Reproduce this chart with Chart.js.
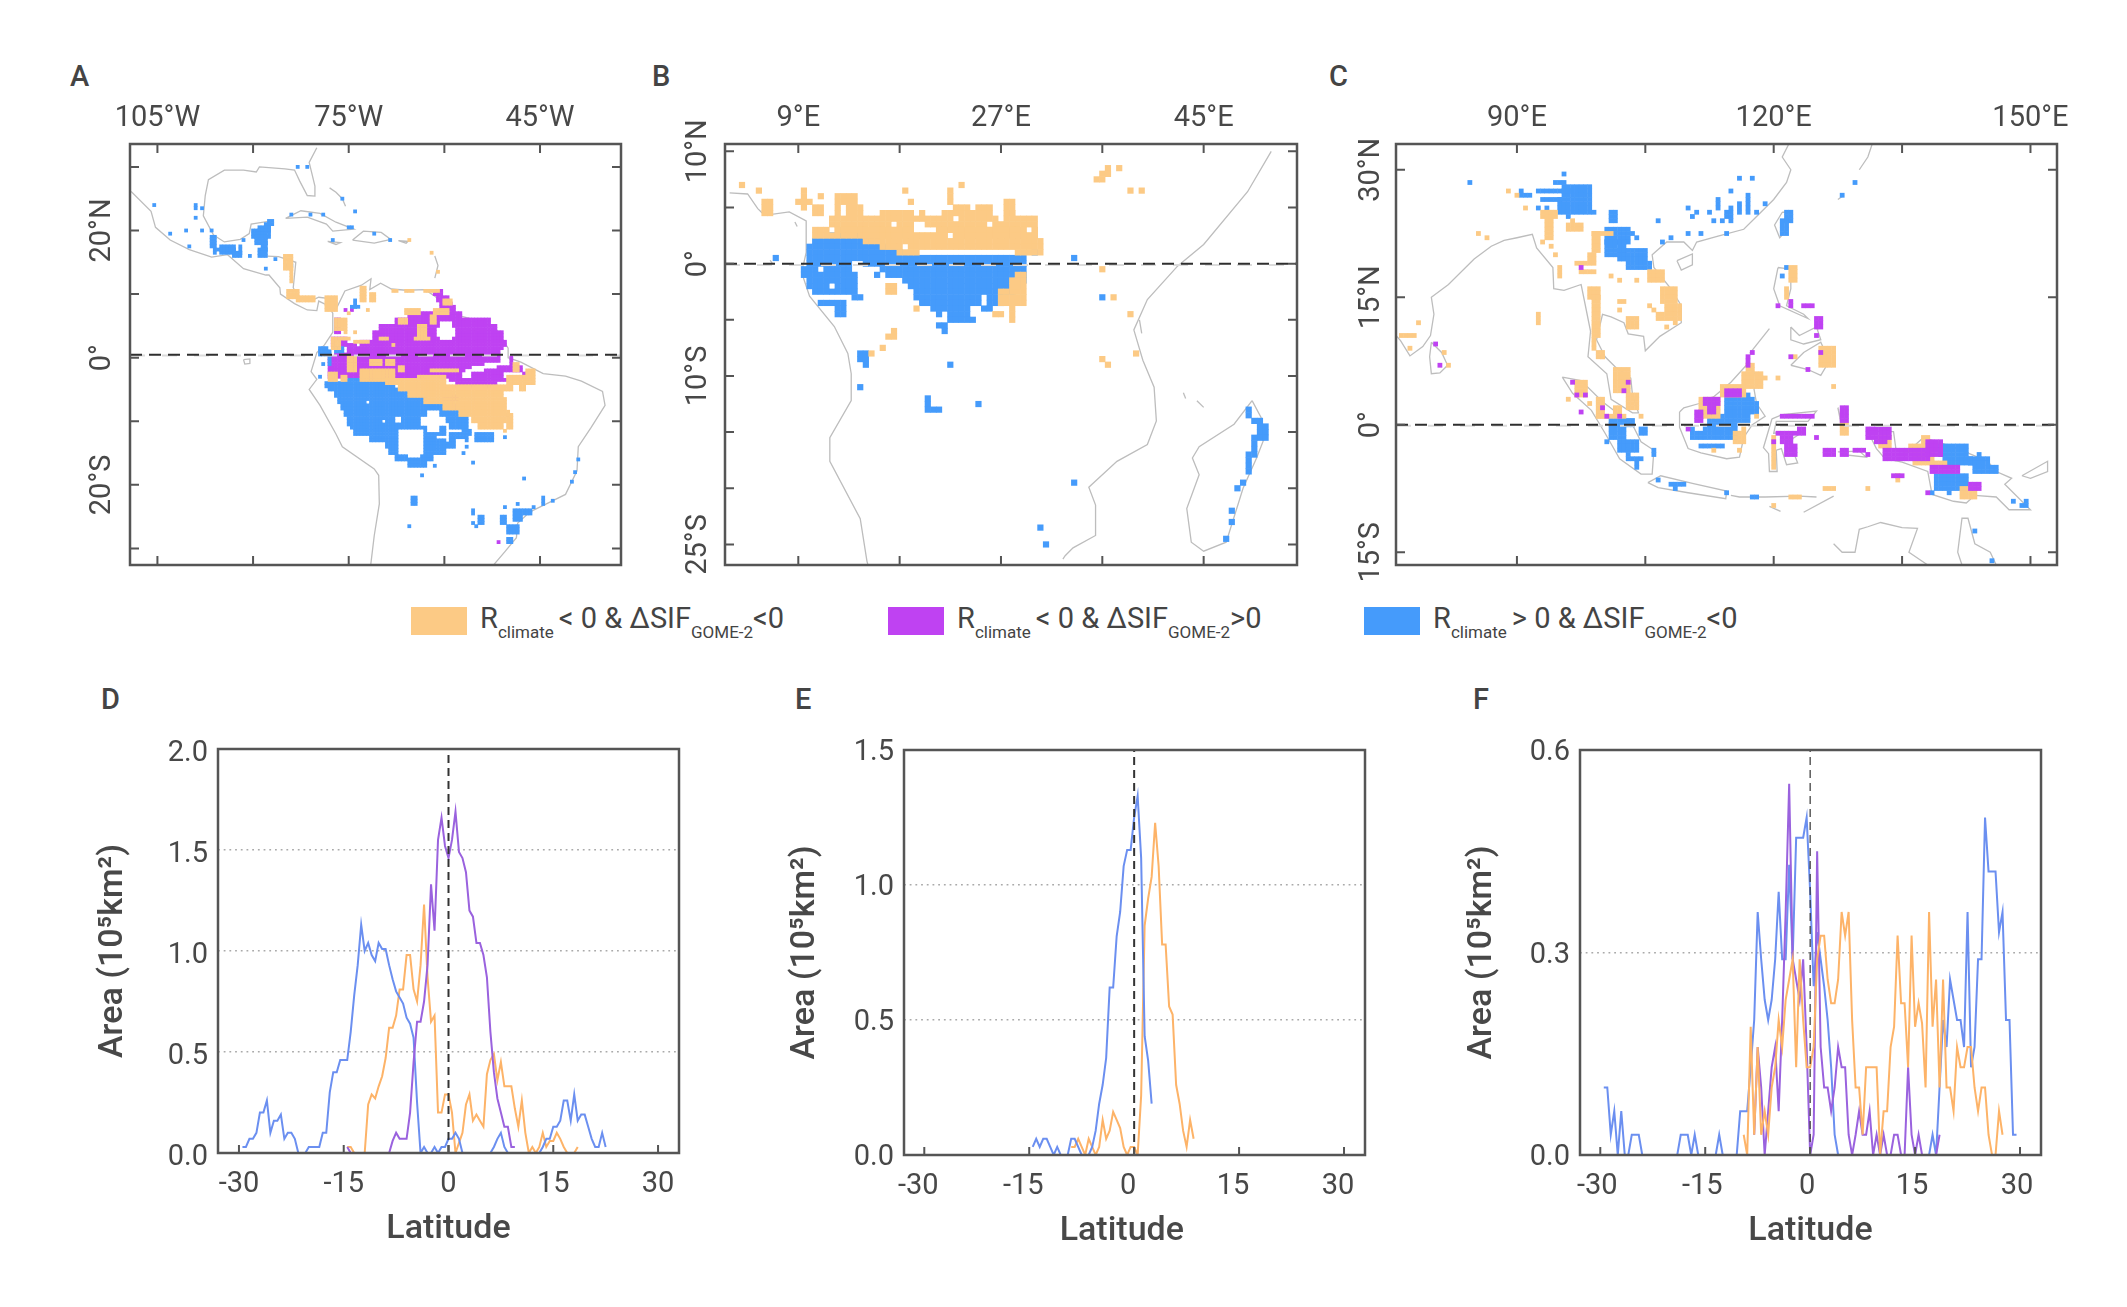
<!DOCTYPE html>
<html>
<head>
<meta charset="utf-8">
<title>Rclimate and SIF maps</title>
<script src="https://cdn.jsdelivr.net/npm/chart.js@4/dist/chart.umd.min.js"></script>
<style>
body { margin:0; background:#fff; width:2127px; height:1307px; overflow:hidden; position:relative;
       font-family:Roboto, sans-serif; color:#444; }
canvas { position:absolute; }
.letter { position:absolute; font-size:29px; font-weight:500; line-height:29px; }
.swatch { position:absolute; top:607px; width:56px; height:28px; }
.legtext { position:absolute; top:601px; font-size:29px; line-height:34px; white-space:nowrap; }
.legtext sub { font-size:17px; vertical-align:-10px; line-height:0; }
.legtext sub:first-child { margin-right:5px; }
</style>
</head>
<body>
<div class="letter" style="left:70px;top:62px">A</div>
<div class="letter" style="left:652px;top:62px">B</div>
<div class="letter" style="left:1329px;top:62px">C</div>
<div class="letter" style="left:101px;top:685px">D</div>
<div class="letter" style="left:795px;top:685px">E</div>
<div class="letter" style="left:1473px;top:685px">F</div>

<div class="swatch" style="left:411px;background:#fcca85"></div>
<div class="legtext" style="left:480px">R<sub>climate</sub>&lt; 0 &amp; ΔSIF<sub>GOME-2</sub>&lt;0</div>
<div class="swatch" style="left:888px;background:#bf42f2"></div>
<div class="legtext" style="left:957px">R<sub>climate</sub>&lt; 0 &amp; ΔSIF<sub>GOME-2</sub>&gt;0</div>
<div class="swatch" style="left:1364px;background:#459bfb"></div>
<div class="legtext" style="left:1433px">R<sub>climate</sub>&gt; 0 &amp; ΔSIF<sub>GOME-2</sub>&lt;0</div>

<script>
const ORANGE = "#fcca85", PURPLE = "#bf42f2", BLUE = "#459bfb";
const LINE_BLUE = "#6b8ff0", LINE_ORANGE = "#fdb368", LINE_PURPLE = "#9a62de";
const TEXT = "#484848", FRAME = "#555";

// ---- map A, cells are [lonW, lonE, latN, latS] or single [lon, lat] on a 0.5 degree grid
const blueA = [
  [-75.5,-69.5,-3.5,-3.5],[-78.5,-68,-4,-4.5],[-78,-67,-5,-5],[-77,-65.5,-5.5,-6],[-76.5,-63,-6.5,-7],
  [-76,-60,-7.5,-8],[-75.5,-58,-8.5,-9],[-75,-56.5,-9.5,-10],[-74.5,-56.5,-10.5,-11],[-74,-56,-11.5,-12],
  [-71.5,-56.5,-12.5,-13],[-69,-58.5,-13.5,-14],[-68.5,-60,-14.5,-15],[-67.5,-62,-15.5,-16],[-65.5,-63,-16.5,-17],
  [-55,-52.5,-12,-13],
  [-105.5,24],[-99,24],[-99,23.5],[-99,22],[-98,23.5],[-103,19.5],[-100.5,20],[-98,20],[-96.5,20],[-100,17.5],
  [-96.5,-96,19,17.5],[-95,-93,17.5,16.5],[-96,-93,17,17],[-96,16.5],[-93,-92,16.5,16],[-90.5,16],[-91.5,18.5],[-92,-92,17.5,16.5],
  [-87.5,-87,21.5,21],[-88,-87.5,21,20.5],[-89,-87.5,20.5,20],[-90,-87.5,20,19],[-89.5,-88,19,18],[-88.5,-88,18,17],[-89,-88,17,16],
  [-88,14],[-86.5,15.5],[-84.5,-84,14.5,14.5],
  [-83,30],[-81.5,30],[-76,25],[-74,23],[-84,22.5],[-81,22.5],[-79,22.5],[-75,-74.5,20.5,20.5],[-71,19.5],[-68.5,18.5],[-77.5,18.5],
  [-55.5,-55.5,-24,-24.5],[-55.5,-26],[-54.5,-54,-25,-26],[-55,-26.5],[-65,-64.5,-22,-23],[-65.5,-26.5],[-55.5,-16.5],[-47.5,-19],
  [-50.5,-23.5],[-48.5,-23],[-49,-46.5,-24,-24.5],[-49,-48,-25,-25.5],[-51,-50.5,-25,-26],[-50,-48.5,-26.5,-27.5],[-50,-49.5,-28.5,-29],
  [-46,-23.5],[-44.5,-44.5,-22,-23],[-43,-22.5],[-40,-19.5],[-39.5,-18],[-39,-16],[-50.5,-12.5],[-57,-15],[-56.5,-14],[-61.5,-17],[-63.5,-18.5],
  [-75,-10.5],[-79,-1],[-79.5,-3],[-79.5,-78.5,1.5,.5],[-78,-78,1,-1],[-77,-76,1.5,1],[-74.5,-73.5,8,8],[-74,-74,9,8]
];
const blueHolesA = [
  [-67,-63.5,-11.5,-15],[-65.5,-64,-15,-15.5],[-62.5,-61,-8.5,-11.5],[-63.5,-60,-9.5,-10.5],[-72,-72,-7,-7],
  [-67.5,-67,-9.5,-10],[-69.5,-69.5,-10,-10],[-59.5,-59.5,-10.5,-13],[-59,-57.5,-11.5,-11.5],[-58,-57,-13,-13.5],[-61,-60,-12.5,-12.5]
];
const purpleA = [
  [-61.5,-60.5,10.5,10],[-61,-59.5,9.5,9],[-60.5,-59,8.5,8.5],[-60.5,-58.5,8,7.5],[-65.5,-57.5,7,6.5],[-67.5,-53,6,5.5],
  [-70,-52,5,4.5],[-71,-51,4,3],[-73,-50.5,2.5,2],[-75,-51,1.5,1],[-77,-50,.5,.5],[-78,-49.5,0,-1],[-78,-48,-1.5,-2],
  [-78,-46.5,-2.5,-3],[-59,-50,-3.5,-3.5],[-58,-52,-4,-4.5],[-77,-76,6,4],[-77.5,-74,3,2],[-60,-59,-6.5,-7.5],[-58.5,-58,-6,-6.5],[-58,-57.5,-7.5,-8],
  [-51.5,-29],[-75.5,7.5],[-74.5,7.5]
];
const purpleHolesA = [
  [-60.5,-59,5.5,3],[-61,-58.5,4.5,3.5],[-55.5,-52,-1.5,-1.5],[-53.5,-51,-1,-1],[-56.5,-54,-2,-2],[-76,-75,6,4],[-75,-74,3,2.5],
  [-51,-50,1,-1],[-50.5,-48,-2.5,-3],[-62,-61,-3,-3],[-57,-56,-2.5,-3],[-77,-76.5,2.5,2]
];
const orangeA = [
  [-69,-60,-3.5,-4],[-67,-49.5,-4.5,-5],[-65.5,-51,-5.5,-6],[-63,-50.5,-6.5,-7],[-60,-50.5,-7.5,-8],[-57.5,-50,-8.5,-9],
  [-55.5,-50.5,-9.5,-10],[-54.5,-53,-10.5,-11],[-52.5,-51,-10.5,-11],[-50,-49.5,-9,-11],[-50.5,-11.5],[-73,-68,-2,-3.5],[-64,-60,-3,-3],
  [-62,-58,-2,-2],[-75,-74,0,-2],[-71.5,-70,-.5,-1],[-78,-77,-2.5,-3.5],[-76,-75.5,-3,-3.5],[-67,-66.5,-1.5,-2],[-69,-68,-.5,-1],
  [-50,-46,-3,-4],[-48,-47.5,-4.5,-5],[-47,-46,-2,-2.5],[-49,-48.5,-1,-2],[-66,-64,7.5,7],[-67,-66,6,5.5],[-61.5,-59.5,7.5,7],[-60,-59,9,8.5],
  [-64,-63,5,3.5],[-62,-61.5,6.5,5.5],[-64.5,-62.5,3,3],[-68,2],[-85,-84,16,14],[-84,-84,14,12],[-84.5,-83,10.5,9.5],[-83,-80.5,9.5,9],
  [-78.5,-77,9.5,7.5],[-73,-72.5,11,9],[-71.5,-71,10,9],[-72,7.5],[-68,-67.5,10.5,10.5],[-66,-65,10.5,10.5],[-63,-61,10.5,10.5],
  [-62,16.5],[-61,13.5],[-65.5,18.5],[-77,-75.5,6,4.5],[-77.5,-76.5,3,1.5],[-76,-75,3,3],[-74,4],[-75.5,4],[-74,-72,2.5,2.5],[-75,7],[-70,-69,3,3]
];

// ---- map B
const orangeB = [
  [12.5,14,6,5.5],[12.5,14.5,5,4.5],[16.5,19,4.5,4.5],[22,26,4.5,4.5],[23,26,5,5],[9.5,9.5,6.5,5],[9,10,5.5,5.5],[10.5,11,5,4.5],
  [12,30,4,3],[10.5,30,3,2.5],[15,30,2.5,2.5],[15,30.5,2,2],[16.5,30.5,1.5,1.5],[18,19.5,1,1],[28.5,30.5,1,1],
  [11,11,6,6],[18.5,6.5],[19,5.5],[22.5,22.5,6.5,5.5],[23.5,7],[27.5,28,5.5,4.5],[28,4.5],[4,7],[5.5,6.5],[6,6.5,5.5,4.5],[20,4.5],
  [36,36.5,8,8],[36.5,36.5,8.5,8],[35.5,36,7.5,7.5],[37.5,8.5],[38.5,6.5],[39.5,6.5],[27,29,-2.5,-3.5],[28,29,-1.5,-2],[28.5,29,-1,-1],
  [28,28,-4,-5],[26.5,27,-4.5,-4.5],[17,17.5,-2,-2.5],[19.5,-4],[17,17.5,-6.5,-6.5],[17.5,17.5,-6,-6],[15.5,-8],[16.5,-7.5],
  [36,-.5],[37,-3],[38.5,-4.5],[36,-8.5],[36.5,-9],[39,-8]
];
const orangeHolesB = [[13,13,5,4.5],[17.5,17.5,3.5,3.5],[19.5,20,3.5,3],[20,21,3,3],[22.5,22.5,2.5,2.5],[18.5,18.5,1.5,1.5],[23,23,4,4],[24.5,24.5,5,5],[26,26,3.5,3.5],[27,27,4,4],[29.5,29.5,3,3],[12,12,3,3]];
const blueB = [
  [12,14.5,2.5,2.5],[10.5,16,2,2],[10,16.5,1.5,1.5],[10,18,1,1],[10,29,.5,.5],[10,29,0,0],[9.5,14,-.5,-.5],[16.5,29,-.5,-.5],
  [9.5,14,-1,-1],[17,29,-1,-1],[10,14,-1.5,-1.5],[18.5,29,-1.5,-1.5],[10,14,-2,-2],[19,28.5,-2,-2],[10.5,14,-2.5,-2.5],[19.5,28,-2.5,-2.5],
  [12,14.5,-3,-3],[19.5,27,-3,-3],[11,13,-3.5,-3.5],[20,25,-3.5,-3.5],[26,27,-3.5,-3.5],[12.5,13,-4,-4],[21,24,-4,-4],[25.5,26,-4,-4],
  [12.5,13,-4.5,-4.5],[21.5,24,-4.5,-4.5],[22,24.5,-5,-5],[21.5,22,-5.5,-5.5],[22,22,-6,-6],[16,-1],
  [7,.5],[30,1],[33.5,.5],[36,-3],[14.5,15,-8,-8.5],[15,15,-9,-9],[14.5,-11],[22.5,-9],[20.5,20.5,-12,-13],[21,21.5,-13,-13],[25,-12.5],
  [33.5,-19.5],[30.5,-23.5],[31,-25],[49,49,-13,-13.5],[49.5,50,-14,-14],[50,50.5,-14.5,-15.5],[49.5,49.5,-15.5,-16.5],[49,49.5,-17,-17],[49,49,-17.5,-18.5],
  [48.5,-19.5],[48,-20],[47.5,-22],[47.5,-23],[47,-24.5]
];
const blueHolesB = [[11,11,-.5,-.5],[15,15,-.5,-.5],[12,12,-2,-2],[22,22,-4.5,-5],[11,13,-3,-3],[25.5,25.5,-3,-3.5],[14,14.5,0,-.5],[13.5,13.5,-3,-3]];

// ---- map C
const blueC = [
  [95.5,98.5,28,27],[95,98.5,26.5,25.5],[95,97.5,25,25],[92.5,96,27.5,27.5],[94.5,95.5,28.5,28.5],[95.5,29.5],[93,95,26.5,26.5],[92.5,25.5],[93.5,25.5],
  [84.5,28.5],[90.5,91.5,27,27],[90.5,27.5],[98,99,25,25],[96,24.5],[101,101.5,24,25],
  [100.5,103,23,21.5],[100.5,102.5,21.5,20],[102,105,20.5,19.5],[103,105.5,19,18.5],
  [103.5,22.5],[104,22],[106.5,24],[108,22],[107,21.5],[110,22.5],[111.5,22.5],[114.5,22.5],[110,25.5],[110.5,24.5],[111,25],[112.5,25],[113,24],[114,24],
  [114.5,115,24.5,25],[115,24],[115,25.5],[115,27.5],[113.5,113.5,25.5,26.5],[116,116,25,26],[117,117,25,27],[118,25],[116,29],[117.5,29],[119,26],
  [121,121.5,22.5,24],[121.5,122,24,25],[129.5,28.5],[128,27],[121.5,18.5],[121,17.5],
  [115.5,117,3.5,3.5],[114.5,117.5,3,3],[114.5,118,2.5,1.5],[112.5,117,1,.5],[112.5,115.5,0,0],[110.5,115.5,-.5,-1.5],[111.5,114,-2.5,-2.5],
  [101,103.5,.5,0],[101.5,102.5,-.5,-1.5],[102,104,-2,-3],[104.5,105,-.5,-1],[101,101,-.5,-1.5],[100.5,-2],[103,-3.5],[103,104.5,-4,-4],[104,104,-4.5,-5],[106,106,-3,-3.5],
  [108,109.5,-7,-7],[108.5,-7.5],[106.5,-6.5],[114.5,-8],[117.5,118,-8.5,-8.5],
  [139.5,142.5,-2.5,-3.5],[140,143,-4,-4.5],[143,145,-4,-4.5],[143.5,146,-5,-5.5],[139,142.5,-6,-7.5],[144,-3.5],[138.5,-8],[140.5,-8],[148,-9],[149,149.5,-9.5,-9.5],[149.5,-9],
  [143.5,-12.5],[145.5,-16]
];
const blueHolesC = [[111,111.5,0,-.5]];
const purpleC = [
  [96.5,5],[97,3.5],[98,3.5],[97.5,1.5],[100,2],[102,1],[100.5,1],[103,5],[102.5,4],[97.5,18.5],
  [111,111.5,1.5,.5],[112,113.5,3,2.5],[112.5,113,2,1.5],[114.5,116,4,3.5],[110,-.5],[117,117,7,8],[117.5,8.5],
  [121,124.5,1,1],[120.5,122.5,-1,-1],[121,122,-1.5,-2],[121.5,122.5,-2.5,-3.5],[120,-2],[123,123.5,-.5,-1],[125,-1.5],[126,127,-3,-3.5],[128,128.5,-3,-3.5],[129.5,130.5,-3,-3],[131,-3.5],[128,128.5,.5,2],
  [131,133.5,-.5,-1.5],[132,133,-2,-2],[133,138,-3,-4],[138,139.5,-2,-3.5],[138.5,141.5,-5,-5.5],[134,135,-6,-6],[143,144,-7,-7.5],[138,-8],
  [122,14.5],[123.5,124.5,14,14],[125,125.5,11.5,12.5],[120.5,14],[122,14],[125,10.5],[122,8],[125.5,8.5],[124,6.5],[80.5,9.5],[81,7]
];
const orangeC = [
  [89,27.5],[90,27],[91,25.5],[85.5,22.5],[86.5,22],[93,94.5,25,24.5],[93.5,94,24.5,22],[96,97.5,23,23.5],[96.5,24],[99,101,22.5,22.5],[99,99.5,20.5,22.5],
  [93,21.5],[94,21],[94.5,20],[95,95,17.5,18.5],[97,99,19,19],[97.5,99,18,18],[98.5,99,19.5,20],[98.5,99.5,15,16],[99,99.5,10.5,15],[99,99,9,10],[99.5,100,8,8.5],
  [101,17.5],[102,17],[104,17],[102,102.5,14.5,14.5],[102,13.5],[105.5,107,17,18],[107,108.5,14.5,16],[107.5,109,13.5,14],[106.5,109,12.5,13],[108.5,12],[107.5,11.5],[103,104,11.5,12.5],[105.5,14],[106,13.5],
  [101.5,103,4,6.5],[103,104,2,3.5],[104.5,1],[100,8],
  [97,98,3.5,5],[99.5,100,1,3],[99.5,102.5,1,1],[101.5,102,1.5,2],[96,3],[98.5,2.5],
  [111.5,113.5,1,3],[114,116.5,3.5,4.5],[116.5,118.5,4.5,6],[117,117.5,6.5,7],[119,5.5],[120.5,5.5],[115.5,116.5,-1,-2],[116,-3],[118,1],[113,-3],[116.5,-.5],
  [122,122.5,17,18.5],[121.5,121.5,15,16],[125.5,127,7,9],[122.5,8],[127,4.5],[128,128.5,0,-1],
  [120,120,-1.5,-5],[134.5,134.5,-6,-6.5],[131,-7.5],[126,127,-7.5,-7.5],[122,123,-8.5,-8.5],[120,-9.5],
  [137.5,138,-1.5,-3],[136,137,-2.5,-3],[136.5,138.5,-3.5,-4.5],[132.5,133.5,-1.5,-2.5],[138.5,140,-4.5,-4.5],[142,143.5,-7.5,-8.5],
  [76.5,78,10.5,10.5],[78.5,12],[77.5,9],[82,7],[81.5,8.5],[92.5,92.5,12,13]
];

// ---- coastlines, [lon, lat]
const coastA = [
  [[-80,33],[-81.2,30.7],[-80.3,27],[-80.3,25.4],[-81.5,25.5],[-82.7,27.8],[-83.5,29.5],[-85,29.7],[-89,30],[-89.5,29.2],[-91.5,29.5],[-94.5,29.5],[-97,28],[-97.5,25.5],[-97.8,22.3],[-96.2,19.3],[-94.5,18.2],[-92,18.6],[-90.6,19.5],[-90.3,21],[-87.2,21.5],[-87.5,19.5],[-88,18],[-88.7,16],[-86,15.9],[-83.3,15],[-83.7,11],[-83,9.7],[-81,8.9],[-79.7,9.5],[-78,9.3],[-76.8,8],[-75.6,10.5],[-73,11.4],[-71.5,12.4],[-71.7,10.7],[-70,11.7],[-68.3,10.8],[-66,10.6],[-63,10.7],[-61.7,9.8],[-60,8.5],[-58,6.7],[-55,5.9],[-52,4.7],[-50,1.5],[-50,0],[-48,-.7],[-44.5,-2.5],[-41,-2.9],[-38.5,-3.7],[-35.2,-5.3],[-34.8,-7.5],[-37,-11],[-39,-14],[-39.2,-17.8],[-41,-21.5],[-44,-23],[-46.5,-24.2],[-48.5,-26],[-48.7,-28.3],[-50.5,-30.5],[-52.2,-32.5],[-53,-34]],
  [[-112,28],[-109,26],[-106,23],[-105.3,20.5],[-103,18.5],[-100,17],[-96.5,15.8],[-94,16.2],[-91.5,14],[-88,13],[-87.5,13],[-85.8,11],[-85.7,10],[-83.5,8.5],[-81.5,7.5],[-80,7.4],[-79.7,8.9],[-78.3,8.2],[-77.5,7],[-77.5,4],[-78.8,2],[-80,.8],[-80.9,-2.2],[-80,-3.4],[-81.2,-5],[-79.5,-7.5],[-77,-12],[-76,-14],[-71,-17.5],[-70.3,-18.5],[-70.2,-23],[-71,-28],[-71.6,-33]],
  [[-84.9,21.9],[-82.5,23.1],[-79.5,22.7],[-77,21.3],[-74.2,20.2],[-77.5,19.9],[-78.5,21],[-81.5,22.1],[-84.9,21.9]],
  [[-74.4,18.5],[-72.7,19.9],[-69.9,19.7],[-68.4,18.6],[-71,18],[-74.4,18.5]],
  [[-78.3,18.3],[-76.3,18.1],[-77,17.8],[-78.3,18.3]],
  [[-67.2,18.4],[-65.7,18.3],[-66,18],[-67.2,18.4]],
  [[-78,26.7],[-77,26],[-76,25],[-75.5,23.8]],
  [[-61.5,16],[-61,14.5],[-61.5,12.5]],
  [[-61.7,10.7],[-61,10.6],[-61.5,10.1],[-61.7,10.7]],
  [[-91.5,-.3],[-90.5,-.2],[-90.5,-.9],[-91.3,-1],[-91.5,-.3]]
];
const coastB = [
  [[2.9,6.3],[4.5,6.2],[5.4,4.9],[6,4.3],[8.2,4.6],[9.7,3.8],[9.7,1],[9.3,-.8],[10,-2.9],[12.2,-5.6],[13.4,-8],[13.7,-9.8],[13.7,-12.2],[11.8,-15.5],[11.8,-17.6],[14.5,-22.7],[15.1,-26.5],[15.5,-28]],
  [[32.5,-26.3],[32.7,-26],[33.4,-25.3],[35.4,-24.2],[35.4,-21.5],[34.8,-19.9],[37.3,-17.6],[40,-16.1],[40.8,-14],[40.6,-11],[39.6,-8.6],[38.8,-5.9],[40,-3.2],[42.7,-.2],[45,1.7],[48.9,6.4],[51,10]],
  [[49.3,-12.2],[50.1,-13.7],[50.4,-15.5],[49.7,-17.3],[48.5,-20],[47,-24.8],[45,-25.6],[43.9,-24.8],[43.5,-21.8],[44.6,-18.8],[44,-17.3],[44.6,-16.3],[47.7,-14.3],[49.3,-12.2]],
  [[8.7,3.7],[8.9,3.3]],[[6.5,.3],[6.7,0]],[[39.3,-5],[39.5,-6.2]],[[43.2,-11.5],[43.4,-12]],[[44.4,-12.2],[45,-12.8]]
];
const coastC = [
  [[75,11.5],[76.4,9.9],[77.5,8.1],[79,9.2],[79.9,10.5],[80.3,13],[80,15],[82,16.5],[85,19.5],[87,21],[88.5,21.7],[90,22],[91.8,22.4],[92.3,20.8],[94.2,18.5],[94.3,16],[95.5,15.8],[97.5,16.5],[98,14],[98.6,11],[98.3,8],[100.5,6],[101,3],[103.5,1.4],[104.2,1.4],[103.5,3.5],[103.3,5.5],[101.5,6.8],[100.3,8],[99.3,10],[100,13],[101,12.7],[102.5,12],[103,10.7],[104.8,10.4],[105,8.7],[106.7,10.4],[109.2,12],[109.2,14],[108,16],[106,18.5],[105.8,20],[107.5,21.5],[109.5,21.5],[110.5,20.5],[111,21.5],[113.5,22.2],[116.5,23],[118,24.5],[120,26.5],[121.5,28.5],[122,30],[121,31.5],[122,33.5]],
  [[80,9.7],[81.2,8.5],[81.9,7],[81,6.1],[80,6],[79.8,8],[80,9.7]],
  [[108.7,19.3],[110.5,20.1],[110.5,18.8],[109.2,18.2],[108.7,19.3]],
  [[121,25],[122,25],[121.3,22.7],[120.7,22],[120.1,23.5],[121,25]],
  [[120.5,18.5],[122,18.3],[122,16],[121.5,14],[123.5,13],[124,12.5],[120.7,14],[120,16],[120.5,18.5]],
  [[122,11.5],[123,10.5],[125,11.5],[125.5,10],[123.5,9.5],[122,10],[122,11.5]],
  [[122,7],[123.5,8.5],[125.5,9.7],[126.5,7.5],[125.5,5.8],[124,6.5],[122,7]],
  [[117.2,8.4],[119.5,11.3]],
  [[95.3,5.6],[97.5,5.2],[100,2.7],[103.5,0],[104.5,-2],[106,-3],[105.8,-5.8],[104.5,-5.8],[102,-4],[100.3,-1],[98.7,1.7],[96.5,3.7],[95.3,5.6]],
  [[105.3,-6.8],[106.8,-6],[110.5,-6.9],[114.5,-7.8],[114.4,-8.7],[110,-8],[106.5,-7.4],[105.3,-6.8]],
  [[115,-8.3],[116,-8.5],[119,-8.5],[123,-8.4],[125,-8.5]],[[119.5,-9.6],[120.8,-10.2]],[[123.5,-10.3],[127,-8.4]],
  [[109,1.5],[109.5,2],[111.3,2.5],[113,3.3],[115,5],[116.8,7],[118.5,5.3],[117.7,4.2],[118,2.5],[119,1],[117.5,0],[116.5,-1.5],[116,-3.8],[114.5,-4],[111.5,-3.3],[110,-2.8],[109,-.3],[109,1.5]],
  [[119.8,.7],[121,1.2],[125,1.6],[124,.4],[120.3,.4],[120,-1],[121.5,-.9],[123.3,-.9],[121.8,-1.9],[122.8,-4.5],[121.5,-4.7],[120.9,-2.8],[120.3,-3],[120.4,-5.5],[119.5,-5.5],[119.4,-3.4],[118.8,-2.7],[119.8,.7]],
  [[127.5,2],[128,0],[128,-.8],[127.7,1],[127.5,2]],
  [[127.5,-3.2],[130,-3.1],[130.8,-3.8],[128,-3.5]],
  [[131,-.8],[134,-.8],[134.3,-3],[135.5,-3.3],[137.5,-1.5],[141,-2.6],[145,-4.3],[146,-5.5],[147.8,-6.3],[147,-7],[150,-10],[147.5,-10],[146,-8.5],[143.5,-8.3],[142.5,-9.2],[141,-9],[138.5,-8.2],[138,-5.5],[135,-4.4],[133,-4],[132,-2.8],[131,-.8]],
  [[149,-6],[152,-4.3],[152,-5.5],[150,-6.3],[149,-6]],
  [[127,-14],[128,-15],[129.5,-15],[130,-12.3],[131,-12],[132.5,-11.5],[135,-12.1],[136.8,-12.2],[135.8,-15],[138,-16.5],[139,-16.5]],
  [[142,-16.5],[141.5,-15],[142,-11],[142.7,-11],[143.5,-14],[145.3,-15],[146,-16.5]],
  [[127.5,26.5],[128.2,27]],[[130,30],[131,31.5],[131.5,33]]
];

// ---- latitude profiles, one value per 0.5 degree from the given start
const latStartBlueD = -29.5;
const blueD = [.03,.03,.07,.07,.10,.20,.20,.26,.10,.16,.16,.19,.07,.10,.10,.07,0,0,0,.03,.03,.03,.03,.10,.10,.30,.40,.40,.46,.46,.46,.60,.78,.93,1.13,1.0,1.04,.98,.95,1.04,1.01,1.01,.93,.86,.80,.77,.74,.67,.64,.57,.25,0,.03,0,0,.03,0,.03,.03,.07,.07,.10,.07,0,0,0,0,0,0,0,0,0,.03,.07,.10,.03,0,0,0,0,0,0,0,0,0,0,.03,.07,.07,.13,.13,.16,.26,.26,.16,.29,.16,.19,.19,.13,.07,.03,.03,.10,.03];
const latStartOrangeD = -14.5;
const orangeD = [.03,.03,0,0,0,0,.24,.29,.27,.33,.38,.47,.62,.62,.68,.81,.81,.98,.98,.81,.75,.93,1.23,.87,.65,.68,.2,.2,.29,.29,.2,0,.05,.1,.24,.29,.16,.19,.16,.13,.39,.46,.49,.36,.45,.33,.33,.33,.22,.13,.26,.1,0,.03,0,.03,.1,.03,.06,.06,.1,.07,.03,0,0,0,.03];
const latStartPurpleD = -14.5;
const purpleD = [.03,0,0,0,0,0,0,0,0,0,0,0,0,.06,.10,.07,.07,.07,.2,.45,.65,.65,.75,.93,1.33,1.1,1.55,1.66,1.52,1.46,1.55,1.69,1.49,1.46,1.39,1.2,1.17,1.04,1.04,.98,.87,.6,.4,.27,.2,.13,.13,.03,.03];

const latStartBlueE = -14.5;
const blueE = [.03,.06,.03,.06,.06,.03,0,.03,0,0,0,.06,.06,.03,0,0,0,.03,.09,.19,.26,.36,.62,.62,.81,.9,1.07,1.13,1.13,1.25,1.33,1.1,.44,.35,.19];
const latStartOrangeE = -9;
const orangeE = [.03,.03,.06,.03,0,.06,.03,0,.03,.13,.06,.09,.16,.13,.1,.03,0,.03,.03,0,.22,.85,.95,1.03,1.23,1.07,.78,.78,.55,.52,.26,.19,.09,.03,.13,.06];

const latStartBlueF = -29.5;
const blueF = [.1,.1,.03,.065,0,.065,0,0,.03,.03,.03,0,0,0,0,0,0,0,0,0,0,0,.03,.03,.03,0,.03,0,0,0,0,0,0,.03,0,0,0,0,0,.065,.065,.065,.13,.2,.36,.29,.23,.2,.23,.29,.39,.29,.29,.43,.29,.47,.47,.47,.5,.39,.25,.33,.29,.25,.2,.13,.03,0,0,0,0,0,0,0,0,0,0,0,0,0,0,0,0,0,0,0,0,0,0,0,0,0,0,0,.03,0,.1,.2,.16,.26,.23,.2,.2,.16,.36,.13,.16,.29,.29,.5,.42,.42,.42,.33,.36,.2,.2,.03,.03];
const latStartOrangeF = -9.5;
const orangeF = [.03,0,.19,.03,.16,.03,.065,.03,.1,.13,.2,.16,.23,.26,.29,.13,.29,.2,.13,.13,.16,.29,.325,.325,.26,.225,.225,.26,.36,.325,.36,.2,.1,.1,.03,.13,.13,.13,.13,0,.065,.065,.16,.19,.325,.225,.225,.13,.325,.19,.225,.195,.1,.36,.19,.26,.1,.26,.1,.1,.065,.16,.13,.13,.16,.16,.1,.065,.1,.1,.03,0,0,.065,.03];
const latStartPurpleF = -8;
const purpleF = [.03,.16,.1,0,.065,.13,.16,.065,.2,.36,.55,.29,.26,.23,.29,.16,0,.03,.45,.16,.1,.1,.065,.1,.16,.13,.13,.03,0,.03,.065,.03,.03,.065,0,.03,0,.03,0,0,.03,.03,0,0,.13,.03,0,.03,0,0,0,0,0,.03];

// ---- axis ticks
const lonTicksA = [-105,-90,-75,-60,-45], lonLabelsA = ["105°W","","75°W","","45°W"];
const latTicksA = [30,20,10,0,-10,-20,-30], latLabelsA = ["","20°N","","0°","","20°S",""];
const lonTicksB = [9,18,27,36,45], lonLabelsB = ["9°E","","27°E","","45°E"];
const latTicksB = [10,5,0,-5,-10,-15,-20,-25], latLabelsB = ["10°N","","0°","","10°S","","","25°S"];
const lonTicksC = [90,105,120,135,150], lonLabelsC = ["90°E","","120°E","","150°E"];
const latTicksC = [30,15,0,-15], latLabelsC = ["30°N","15°N","0°","15°S"];
const latitudeTicks = [-30,-15,0,15,30];
const areaTicksD = [0,.5,1,1.5,2], areaTicksE = [0,.5,1,1.5], areaTicksF = [0,.3,.6];

// frame round the plot and small inward ticks, taken from the scales
const frameTicks = {
  id: "frameTicks",
  afterDatasetsDraw(chart, args, opts) {
    const { ctx, chartArea: a, scales } = chart;
    ctx.save();
    ctx.strokeStyle = FRAME;
    ctx.lineWidth = opts.tickWidth;
    ctx.beginPath();
    scales.x.ticks.forEach(t => {
      const px = scales.x.getPixelForValue(t.value);
      ctx.moveTo(px, a.bottom); ctx.lineTo(px, a.bottom - opts.len);
      if (opts.allSides) { ctx.moveTo(px, a.top); ctx.lineTo(px, a.top + opts.len); }
    });
    if (opts.allSides) {
      scales.y.ticks.forEach(t => {
        const py = scales.y.getPixelForValue(t.value);
        ctx.moveTo(a.left, py); ctx.lineTo(a.left + opts.len, py);
        ctx.moveTo(a.right, py); ctx.lineTo(a.right - opts.len, py);
      });
    }
    ctx.stroke();
    ctx.lineWidth = 2.5;
    ctx.strokeRect(a.left, a.top, a.right - a.left, a.bottom - a.top);
    ctx.restore();
  }
};

function addCanvas(left, top, w, h) {
  const c = document.createElement("canvas");
  c.width = w; c.height = h;
  c.style.left = left + "px"; c.style.top = top + "px";
  c.style.width = w + "px"; c.style.height = h + "px";
  document.body.appendChild(c);
  return c;
}

function inRect(lon, lat, r) {
  return lon >= r[0] && lon <= r[1] && lat <= Math.max(r[2], r[3]) && lat >= Math.min(r[2], r[3]);
}

// turn the cell blocks into one point per grid cell
function cells(blocks, holes) {
  const out = [];
  blocks.forEach(b => {
    if (b.length === 2) { out.push({ x: b[0], y: b[1] }); return; }
    const n = Math.max(b[2], b[3]), s = Math.min(b[2], b[3]);
    for (let lat = n; lat >= s; lat -= .5) {
      for (let lon = b[0]; lon <= b[1]; lon += .5) {
        if (!(holes || []).some(r => inRect(lon, lat, r))) out.push({ x: lon, y: lat });
      }
    }
  });
  return out;
}

// 'rect' point side is radius * sqrt(2)
function cellSet(blocks, holes, color, side) {
  return { data: cells(blocks, holes), pointStyle: "rect", pointRadius: side * Math.SQRT1_2,
           backgroundColor: color, borderColor: color, borderWidth: 0 };
}

function drawMap(f, lon, lat, lonTicks, lonLabels, latTicks, latLabels, rotPad, eqLat, sets, coast) {
  const gutterL = 100, gutterT = 60;
  const canvas = addCanvas(f.l - gutterL, f.t - gutterT, f.r - f.l + gutterL + 45, f.b - f.t + gutterT + 30);
  const datasets = [{
    data: [{ x: lon[0], y: eqLat }, { x: lon[1], y: eqLat }],
    showLine: true, borderColor: "#2f2f2f", borderWidth: 2, borderDash: [12, 7], pointRadius: 0
  }, {
    data: [{ x: lon[0], y: eqLat - .12 }, { x: lon[1], y: eqLat - .12 }],
    showLine: true, borderColor: "#dcdcdc", borderWidth: 2, borderDash: [15, 17], pointRadius: 0
  }].concat(sets).concat(coast.map(seg => ({
    data: seg.map(p => ({ x: p[0], y: p[1] })),
    showLine: true, borderColor: "#bdbdbd", borderWidth: 1.3, pointRadius: 0
  })));
  new Chart(canvas, {
    type: "scatter",
    data: { datasets },
    options: {
      responsive: false, animation: false, events: [],
      layout: { padding: { right: 45, bottom: 30 } },
      plugins: { legend: { display: false }, tooltip: { enabled: false },
                 frameTicks: { len: 9, allSides: true, tickWidth: 2 } },
      scales: {
        x: {
          type: "linear", position: "top", min: lon[0], max: lon[1],
          grid: { display: false, drawTicks: false }, border: { display: false },
          afterBuildTicks: s => { s.ticks = lonTicks.map(value => ({ value })); },
          afterFit: s => { s.height = gutterT; },
          ticks: { color: TEXT, font: { family: "Roboto", size: 29, weight: 400 }, padding: 8, maxRotation: 0, autoSkip: false,
                   callback: v => lonLabels[lonTicks.indexOf(v)] }
        },
        y: {
          type: "linear", position: "left", min: lat[0], max: lat[1],
          grid: { display: false, drawTicks: false }, border: { display: false },
          afterBuildTicks: s => { s.ticks = latTicks.map(value => ({ value })); },
          afterFit: s => { s.width = gutterL; },
          ticks: { color: TEXT, font: { family: "Roboto", size: 29, weight: 400 }, padding: rotPad, minRotation: 90, maxRotation: 90, crossAlign: "center", autoSkip: false,
                   callback: v => latLabels[latTicks.indexOf(v)] }
        }
      }
    },
    plugins: [frameTicks]
  });
}

function drawProfile(f, gutterL, xRange, yMax, yTicks, series, labelShift, yLabelShift, dashWidth, xTitle) {
  const gutterB = 101, padTop = 40;
  const canvas = addCanvas(f.l - gutterL, f.t - padTop, f.r - f.l + gutterL + 30, f.b - f.t + gutterB + padTop);
  const datasets = [{
    data: [{ x: 0, y: 0 }, { x: 0, y: yMax }],
    showLine: true, borderColor: "#333", borderWidth: dashWidth, borderDash: [8, 5], pointRadius: 0
  }].concat(series.map(s => ({
    data: s.values.map((v, i) => ({ x: s.start + i * .5, y: v })),
    showLine: true, borderColor: s.color, borderWidth: 2, pointRadius: 0, tension: 0
  })));
  new Chart(canvas, {
    type: "scatter",
    data: { datasets },
    options: {
      responsive: false, animation: false, events: [],
      layout: { padding: { top: padTop, right: 30 } },
      plugins: { legend: { display: false }, tooltip: { enabled: false },
                 frameTicks: { len: 8, allSides: false, tickWidth: 2 } },
      scales: {
        x: {
          type: "linear", min: xRange[0], max: xRange[1],
          grid: { display: false, drawTicks: false }, border: { display: false },
          afterBuildTicks: s => { s.ticks = latitudeTicks.map(value => ({ value })); },
          afterFit: s => { s.height = gutterB; },
          ticks: { color: TEXT, font: { family: "Roboto", size: 29 }, padding: 14, maxRotation: 0, autoSkip: false, labelOffset: labelShift,
                   callback: v => String(v) },
          title: { display: true, text: xTitle, color: TEXT, padding: { top: 0, bottom: 4 },
                   font: { family: "Roboto", size: 34, weight: 500 } }
        },
        y: {
          type: "linear", min: 0, max: yMax,
          grid: { color: "#aaa", lineWidth: 1.6, drawTicks: false }, border: { display: false, dash: [1.8, 3.9] },
          afterBuildTicks: s => { s.ticks = yTicks.map(value => ({ value })); },
          afterFit: s => { s.width = gutterL; },
          ticks: { color: TEXT, font: { family: "Roboto", size: 29 }, padding: 10, autoSkip: false, labelOffset: yLabelShift,
                   callback: v => v.toFixed(1) },
          title: { display: true, text: "Area (10⁵km²)", color: TEXT, padding: { top: 0, bottom: 3 },
                   font: { family: "Roboto", size: 34, weight: 500 } }
        }
      }
    },
    plugins: [frameTicks]
  });
}

document.fonts.load("29px Roboto").finally(() => {
  drawMap({ l: 130, r: 621, t: 144, b: 565 }, [-109.3, -32.3], [-32.6, 33.6], lonTicksA, lonLabelsA, latTicksA, latLabelsA, -4.5, .45, [
    cellSet(orangeA, null, ORANGE, 3.8),
    cellSet(blueA, blueHolesA, BLUE, 3.8),
    cellSet(purpleA, purpleHolesA, PURPLE, 3.8)
  ], coastA);

  drawMap({ l: 725, r: 1297, t: 144, b: 565 }, [2.49, 53.29], [-26.83, 10.65], lonTicksB, lonLabelsB, latTicksB, latLabelsB, -6, 0, [
    cellSet(orangeB, orangeHolesB, ORANGE, 6.2),
    cellSet(blueB, blueHolesB, BLUE, 6.2)
  ], coastB);

  drawMap({ l: 1396, r: 2057, t: 144, b: 565 }, [75.87, 153.1], [-16.5, 33.03], lonTicksC, lonLabelsC, latTicksC, latLabelsC, -8, 0, [
    cellSet(purpleC, null, PURPLE, 4.8),
    cellSet(orangeC, null, ORANGE, 4.8),
    cellSet(blueC, blueHolesC, BLUE, 4.8)
  ], coastC);

  drawProfile({ l: 218, r: 679, t: 749, b: 1153 }, 125, [-33, 33], 2, areaTicksD, [
    { start: latStartPurpleD, values: purpleD, color: LINE_PURPLE },
    { start: latStartBlueD, values: blueD, color: LINE_BLUE },
    { start: latStartOrangeD, values: orangeD, color: LINE_ORANGE }
  ], 0, 5, 2, "Latitude");

  drawProfile({ l: 904, r: 1365, t: 750, b: 1155 }, 119, [-32.9, 33], 1.5, areaTicksE, [
    { start: latStartBlueE, values: blueE, color: LINE_BLUE },
    { start: latStartOrangeE, values: orangeE, color: LINE_ORANGE }
  ], -6, 3, 2, "Latitude\u00a0\u00a0\u00a0");

  drawProfile({ l: 1580, r: 2041, t: 750, b: 1155 }, 118, [-32.9, 33], .6, areaTicksF, [
    { start: latStartOrangeF, values: orangeF, color: LINE_ORANGE },
    { start: latStartPurpleF, values: purpleF, color: LINE_PURPLE },
    { start: latStartBlueF, values: blueF, color: LINE_BLUE }
  ], -3, 3, 1.2, "Latitude");
});
</script>
</body>
</html>
